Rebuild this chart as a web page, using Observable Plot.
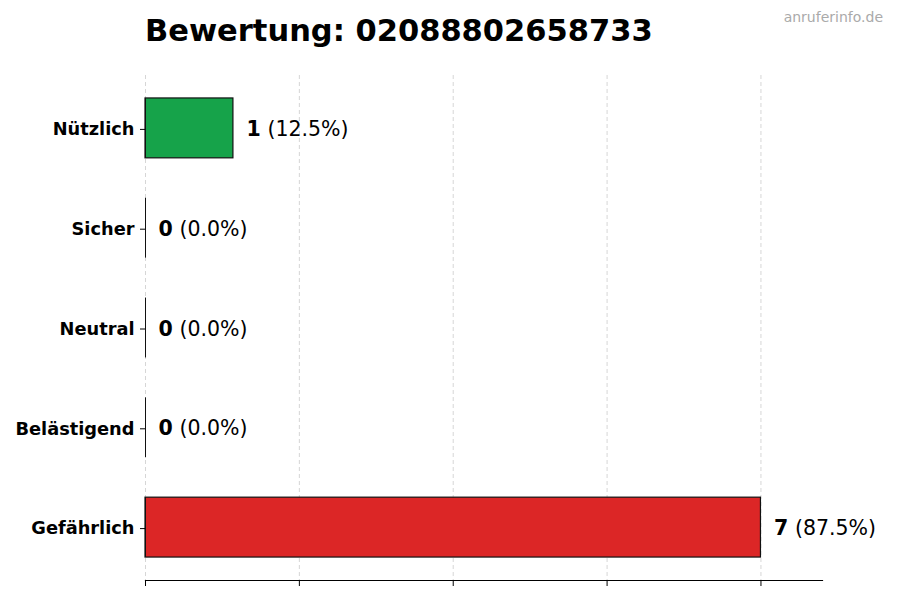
<!DOCTYPE html>
<html>
<head>
<meta charset="utf-8">
<script src="https://cdn.jsdelivr.net/npm/d3@7"></script>
<script src="https://cdn.jsdelivr.net/npm/@observablehq/plot@0.6"></script>
<style>
  body { margin: 0; background: #fff; font-family: "DejaVu Sans", sans-serif; }
  #wrap { position: relative; width: 900px; height: 600px; }
  #title { position: absolute; left: 145px; top: 13px; font-size: 30.5px; font-weight: bold; color: #000; white-space: nowrap; }
  #mark { position: absolute; right: 17px; top: 9px; font-size: 14px; color: #aaaaaa; }
  svg { position: absolute; left: 0; top: 0; }
</style>
</head>
<body>
<div id="wrap">
  <div id="title">Bewertung: 02088802658733</div>
  <div id="mark">anruferinfo.de</div>
</div>
<script>
const categories = ["Nützlich", "Sicher", "Neutral", "Belästigend", "Gefährlich"];
const counts = [1, 0, 0, 0, 7];
const percents = ["12.5%", "0.0%", "0.0%", "0.0%", "87.5%"];
const barColors = ["#16a34a", "#3b82f6", "#9ca3af", "#f59e0b", "#dc2626"];
const xTicks = [0, 1.75, 3.5, 5.25, 7];
const xMax = 7.7;

const data = categories.map((c, i) => ({cat: c, value: counts[i], pct: percents[i], color: barColors[i]}));

const chart = Plot.plot({
  width: 900,
  height: 600,
  marginLeft: 145,
  marginRight: 78,
  marginTop: 75,
  marginBottom: 20,
  style: {fontFamily: "DejaVu Sans, sans-serif", background: "transparent"},
  x: {domain: [0, xMax], axis: null},
  y: {domain: categories, paddingInner: 0.4, paddingOuter: 0.23, round: false, axis: null},
  marks: [
    Plot.gridX(xTicks, {stroke: "#cccccc", strokeOpacity: 1, strokeDasharray: "4,3", strokeWidth: 0.8}),
    Plot.barX(data, {x: "value", y: "cat", fill: d => d.color, stroke: "#111", strokeWidth: 1.2}),
    Plot.tickX(data, {x: 0, y: "cat", stroke: "#111", strokeWidth: 1}),
    Plot.text(data, {x: "value", y: "cat", text: d => String(d.value), dx: 13, dy: 1, textAnchor: "start", fontSize: 20.5, fontWeight: "bold", fill: "#000"}),
    Plot.text(data, {x: "value", y: "cat", text: d => "(" + d.pct + ")", dx: 34, dy: 1, textAnchor: "start", fontSize: 20.5, fill: "#000"}),
    Plot.axisY({tickSize: 5, tickPadding: 6, fontSize: 17.8, fontWeight: "bold", label: null, color: "#000", dy: 1}),
    Plot.axisX({ticks: xTicks, tickFormat: () => "", tickSize: 6, label: null}),
    Plot.frame({anchor: "bottom", stroke: "#000", strokeWidth: 1.2})
  ]
});
chart.querySelectorAll("g[aria-label='y-axis tick label'] text").forEach(t => { t.style.fontWeight = "bold"; });
document.getElementById("wrap").prepend(chart);
</script>
</body>
</html>
